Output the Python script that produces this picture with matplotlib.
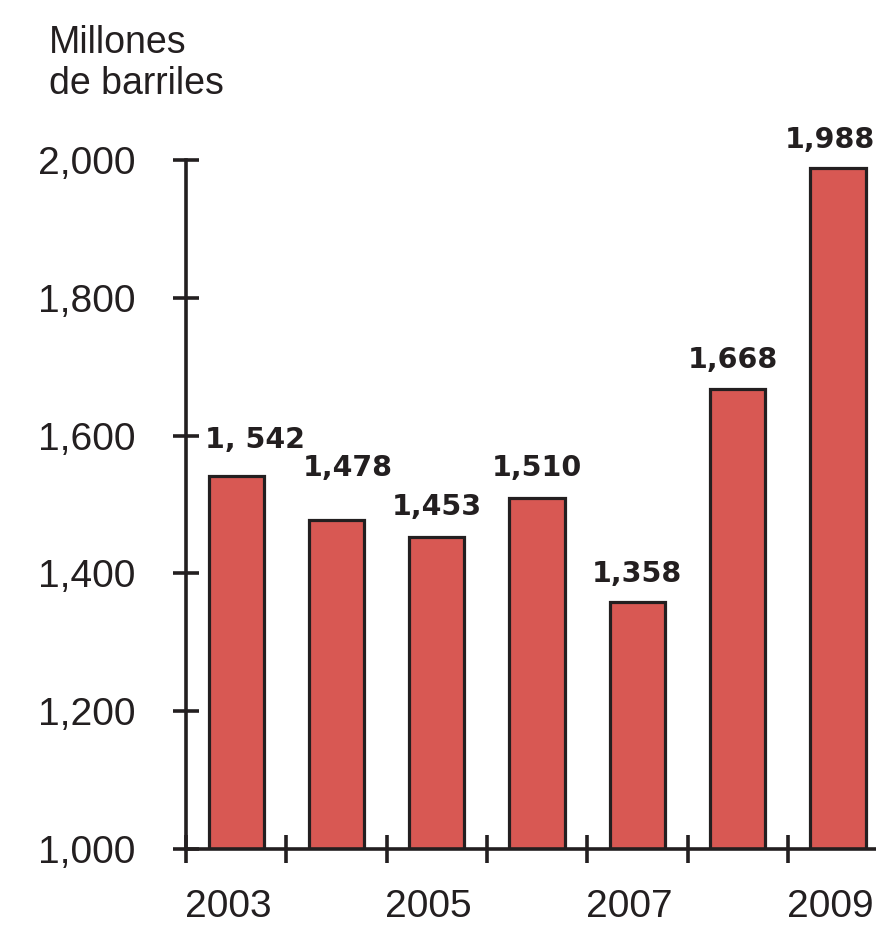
import matplotlib
matplotlib.use("Agg")
import matplotlib.pyplot as plt
from matplotlib.transforms import ScaledTranslation

# ---- data ----
years = ["2003", "2004", "2005", "2006", "2007", "2008", "2009"]
values = [1542, 1478, 1453, 1510, 1358, 1668, 1988]
value_labels = ["1, 542", "1,478", "1,453", "1,510", "1,358", "1,668", "1,988"]
year_labels = ["2003", "", "2005", "", "2007", "", "2009"]
y_ticks = [1000, 1200, 1400, 1600, 1800, 2000]
y_tick_labels = ["1,000", "1,200", "1,400", "1,600", "1,800", "2,000"]
title_lines = ["Millones", "de barriles"]

# label placement offsets (pixels) relative to each bar top
label_dx = [19, 11, 0, 0, 0, -5, -8]
label_dy = [28, 44, 22, 22, 20, 21, 20]

DPI = 100
W, H = 876, 934
TXT = "#231f20"
BAR = "#d85853"

fig = plt.figure(figsize=(W / DPI, H / DPI), dpi=DPI)
fig.patch.set_facecolor("white")
ax = fig.add_axes([186 / W, 1 - 849 / H, (876 - 186) / W, (849 - 160) / H])

x = list(range(len(years)))
ax.bar(x, values, width=0.55, bottom=0, color=BAR, edgecolor=TXT,
       linewidth=2.3, zorder=2)
ax.set_ylim(1000, 2000)
ax.set_xlim(-0.5, -0.5 + 690 / 100.3)

for s in ["top", "right"]:
    ax.spines[s].set_visible(False)
for s in ["left", "bottom"]:
    ax.spines[s].set_linewidth(2.6)
    ax.spines[s].set_color(TXT)
    ax.spines[s].set_zorder(3)

# y ticks
ax.set_yticks(y_ticks, y_tick_labels)
ax.tick_params(axis="y", which="major", direction="inout", length=19, width=2.6,
               color=TXT, pad=27, labelsize=28, labelcolor=TXT)

# x major ticks between bars (no labels)
ax.set_xticks([i - 0.5 for i in x if i - 0.5 < ax.get_xlim()[1]])
ax.set_xticklabels([])
ax.tick_params(axis="x", which="major", direction="inout", length=20, width=2.6,
               color=TXT)
# x minor ticks at bar centres carrying the year labels
ax.set_xticks(x, year_labels, minor=True)
ax.tick_params(axis="x", which="minor", length=0, pad=29, labelsize=28,
               labelcolor=TXT)
off = ScaledTranslation(-8 / DPI, 0, fig.dpi_scale_trans)
for lab in ax.get_xticklabels(minor=True):
    lab.set_transform(lab.get_transform() + off)

for lab in ax.get_xticklabels(minor=True) + ax.get_yticklabels():
    lab.set_fontfamily("Liberation Sans")

# value labels
for xi, v, t, dx, dy in zip(x, values, value_labels, label_dx, label_dy):
    ax.annotate(t, (xi, v), xytext=(dx, dy), textcoords="offset pixels",
                ha="center", va="baseline", fontsize=20.5, fontweight="bold",
                color=TXT, family="DejaVu Sans", annotation_clip=False)

# title
fig.text(49 / W, 1 - 53 / H, title_lines[0], ha="left", va="baseline",
         fontsize=27, color=TXT, family="Liberation Sans")
fig.text(49 / W, 1 - 94 / H, title_lines[1], ha="left", va="baseline",
         fontsize=27, color=TXT, family="Liberation Sans")

fig.savefig("out.png", dpi=DPI, facecolor="white")
